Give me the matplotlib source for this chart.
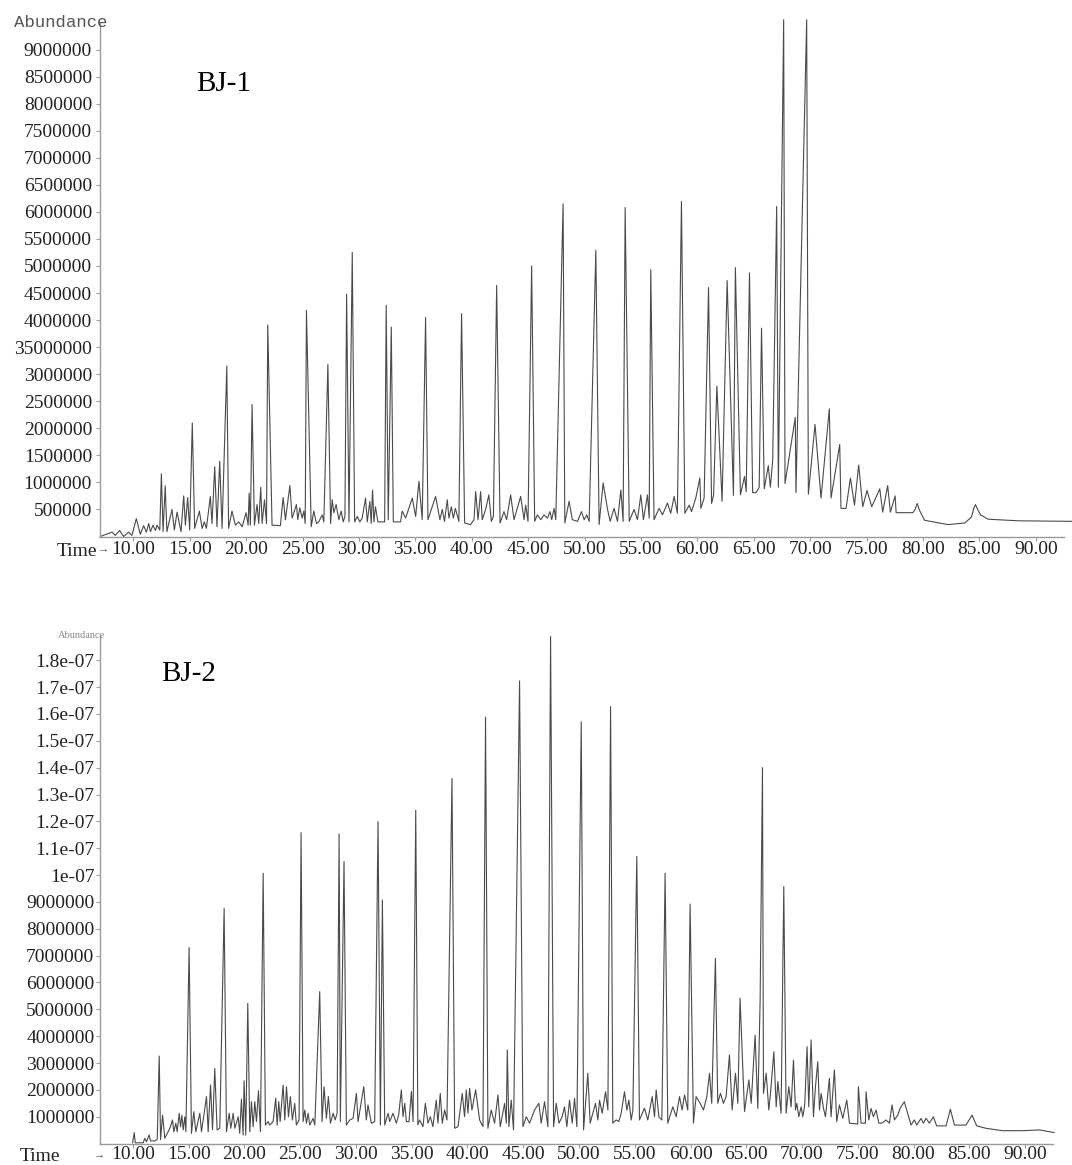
import matplotlib
matplotlib.use('Agg')
import matplotlib.pyplot as plt
import numpy as np

# retention time (min), abundance (millions of counts)
bj1_trace = [
    (7.07, 0.0), (8.11, 0.08), (8.40, 0.02), (8.79, 0.11), (9.14, 0.0), (9.58, 0.08), (9.88, 0.02),
    (10.27, 0.33), (10.62, 0.04), (10.92, 0.20), (11.16, 0.08), (11.37, 0.24), (11.52, 0.09),
    (11.75, 0.21), (11.96, 0.11), (12.11, 0.21), (12.35, 0.12),
    (12.49, 1.16), (12.64, 0.09), (12.83, 0.94), (12.98, 0.09), (13.43, 0.50), (13.64, 0.12),
    (13.88, 0.45), (14.23, 0.09), (14.47, 0.75), (14.62, 0.21), (14.82, 0.72), (15.00, 0.12),
    (15.23, 2.10), (15.44, 0.15), (15.86, 0.47), (16.10, 0.15), (16.30, 0.27), (16.48, 0.15),
    (16.83, 0.74), (16.98, 0.24), (17.22, 1.29), (17.42, 0.18), (17.66, 1.39), (17.87, 0.15),
    (18.29, 3.15), (18.45, 0.15), (18.75, 0.47), (19.05, 0.21), (19.35, 0.27), (19.65, 0.18),
    (20.00, 0.44), (20.18, 0.21), (20.27, 0.80), (20.38, 0.21), (20.53, 2.44),
    (20.74, 0.21), (20.97, 0.59), (21.12, 0.24), (21.30, 0.91), (21.42, 0.24), (21.63, 0.68),
    (21.81, 0.24), (21.92, 3.91), (22.30, 0.21), (23.04, 0.20), (23.28, 0.72), (23.49, 0.31),
    (23.88, 0.94), (24.08, 0.34), (24.46, 0.59), (24.58, 0.31), (24.76, 0.53),
    (24.97, 0.34), (25.12, 0.47), (25.24, 0.24), (25.35, 4.18), (25.77, 0.18), (26.00, 0.47),
    (26.24, 0.24), (26.44, 0.27), (26.74, 0.40), (26.89, 0.27), (27.25, 3.18), (27.49, 0.24),
    (27.63, 0.68), (27.78, 0.44), (27.98, 0.59), (28.22, 0.31), (28.43, 0.47),
    (28.61, 0.27), (28.76, 0.37), (28.91, 4.48), (29.12, 0.27), (29.41, 5.25), (29.62, 0.27),
    (29.85, 0.37), (30.08, 0.27), (30.29, 0.34), (30.59, 0.71), (30.74, 0.27), (30.97, 0.65),
    (31.09, 0.24), (31.21, 0.86), (31.33, 0.27), (31.47, 0.55), (31.68, 0.27),
    (32.28, 0.27), (32.42, 4.27), (32.60, 0.31), (32.87, 3.87), (33.05, 0.27), (33.69, 0.27),
    (33.84, 0.47), (34.14, 0.34), (34.73, 0.71), (35.03, 0.37), (35.32, 1.02), (35.61, 0.31),
    (35.91, 4.05),
    (36.12, 0.31), (36.80, 0.74), (37.18, 0.31), (37.39, 0.50), (37.59, 0.28), (37.83, 0.68),
    (37.98, 0.34), (38.19, 0.55), (38.37, 0.34), (38.55, 0.52), (38.86, 0.28), (39.10, 4.12),
    (39.37, 0.25), (39.90, 0.22), (40.20, 0.31), (40.35, 0.83), (40.56, 0.31), (40.79, 0.83),
    (40.93, 0.31), (41.23, 0.50), (41.52, 0.77), (41.74, 0.28), (41.92, 0.37), (42.21, 4.64),
    (42.51, 0.25), (42.86, 0.46), (43.09, 0.31), (43.45, 0.77), (43.75, 0.31), (44.34, 0.74),
    (44.64, 0.31), (44.78, 0.58), (44.99, 0.28), (45.31, 5.00), (45.58, 0.28), (45.82, 0.40),
    (46.12, 0.31), (46.41, 0.40), (46.71, 0.34), (46.94, 0.46), (47.09, 0.31), (47.30, 0.52),
    (47.45, 0.31), (48.10, 6.15), (48.25, 0.25), (48.63, 0.65), (48.92, 0.31), (49.37, 0.28),
    (49.73, 0.46), (49.97, 0.31), (50.20, 0.40), (50.41, 0.28), (51.00, 5.29), (51.29, 0.22),
    (51.65, 0.99), (52.04, 0.50), (52.27, 0.28), (52.62, 0.52), (52.92, 0.28), (53.22, 0.86),
    (53.42, 0.28), (53.60, 6.08), (53.96, 0.28), (54.39, 0.50), (54.69, 0.31), (54.99, 0.77),
    (55.22, 0.31), (55.58, 0.77), (55.73, 0.34), (55.87, 4.93), (56.16, 0.31), (56.61, 0.52),
    (56.91, 0.40), (57.35, 0.62), (57.64, 0.43), (57.94, 0.74), (58.23, 0.43), (58.59, 6.19),
    (58.89, 0.43), (59.28, 0.58), (59.48, 0.46), (59.86, 0.71), (60.22, 1.08), (60.31, 0.52),
    (60.60, 0.71), (60.99, 4.60), (61.26, 0.61), (61.44, 0.77), (61.73, 2.78), (62.19, 0.65),
    (62.64, 4.73), (63.20, 0.76), (63.37, 4.97), (63.82, 0.77), (64.18, 1.11), (64.33, 0.83),
    (64.62, 4.87),
    (64.90, 0.81), (65.20, 0.81), (65.48, 0.91), (65.69, 3.85), (65.93, 0.88), (66.29, 1.31),
    (66.47, 0.91), (66.68, 1.41), (67.03, 6.10), (67.18, 0.91), (67.65, 9.55), (67.77, 0.98),
    (68.68, 2.20), (68.74, 0.81), (69.69, 9.55), (69.84, 0.78), (70.43, 2.07), (70.96, 0.71),
    (71.70, 2.36), (71.85, 0.71), (72.62, 1.70), (72.73, 0.52), (73.18, 0.52), (73.57, 1.08),
    (73.93, 0.58), (74.30, 1.32), (74.66, 0.55), (75.04, 0.85), (75.46, 0.55), (76.17, 0.88),
    (76.43, 0.45), (76.87, 0.94), (77.11, 0.45), (77.53, 0.75), (77.62, 0.44), (79.10, 0.44),
    (79.30, 0.50), (79.49, 0.61), (79.70, 0.48), (80.14, 0.30), (82.22, 0.22), (83.71, 0.25),
    (84.30, 0.36), (84.50, 0.52), (84.65, 0.59), (84.85, 0.50), (85.10, 0.40), (85.77, 0.32),
    (88.43, 0.29), (93.35, 0.28),
]

bj2_trace = [
    (9.97, 0.03), (10.12, 0.41), (10.21, 0.03), (10.92, 0.03), (11.07, 0.20), (11.22, 0.07),
    (11.46, 0.32), (11.58, 0.10), (11.97, 0.10), (12.18, 0.15), (12.36, 3.26), (12.48, 0.15),
    (12.66, 1.06), (12.86, 0.20), (13.16, 0.44), (13.37, 0.63), (13.55, 0.88), (13.67, 0.44),
    (13.85, 0.76), (13.97, 0.44), (14.15, 1.13), (14.27, 0.63), (14.39, 1.06), (14.51, 0.51),
    (14.66, 1.00), (14.75, 0.44), (15.04, 7.30), (15.25, 0.38), (15.46, 1.19), (15.64, 0.44),
    (16.00, 1.13), (16.15, 0.44), (16.60, 1.75), (16.75, 0.44), (16.96, 2.18), (17.14, 0.51),
    (17.34, 2.80), (17.55, 0.51), (17.79, 0.57), (18.18, 8.76), (18.39, 0.44), (18.63, 1.13),
    (18.78, 0.57), (18.99, 1.13), (19.14, 0.57), (19.44, 1.00), (19.58, 0.38), (19.73, 1.65),
    (19.88, 0.32), (19.97, 2.34), (20.12, 0.32), (20.30, 5.22), (20.48, 0.44), (20.63, 1.56),
    (20.78, 0.63), (20.93, 1.56), (21.08, 0.82), (21.26, 1.97), (21.44, 0.44), (21.68, 10.07),
    (21.88, 0.69), (22.12, 0.82), (22.27, 0.69), (22.57, 0.82), (22.81, 1.69), (22.93, 0.69),
    (23.08, 1.56), (23.20, 0.82), (23.47, 2.18), (23.62, 0.88), (23.77, 2.12), (23.95, 1.00),
    (24.12, 1.75), (24.30, 0.88), (24.51, 1.50), (24.66, 0.69), (24.90, 0.88), (25.08, 11.58),
    (25.26, 0.82), (25.41, 1.25), (25.56, 0.76), (25.71, 1.13), (25.86, 0.69), (26.16, 0.94),
    (26.31, 0.69), (26.75, 5.66), (26.96, 0.82), (27.14, 2.12), (27.35, 0.94), (27.53, 1.75),
    (27.71, 0.76), (27.95, 1.13), (28.13, 0.88), (28.31, 1.13), (28.49, 11.53), (28.60, 0.82),
    (28.93, 10.50), (29.14, 0.69), (29.44, 0.88), (29.74, 0.94), (30.04, 1.87), (30.19, 0.82),
    (30.70, 2.12), (30.93, 0.88), (31.08, 1.44), (31.38, 0.76), (31.68, 0.82), (31.98, 11.99),
    (32.19, 0.69), (32.37, 9.07), (32.58, 0.69), (32.88, 1.13), (33.03, 0.82), (33.32, 1.13),
    (33.62, 0.76), (33.83, 1.06), (34.07, 2.00), (34.22, 1.00), (34.37, 1.50), (34.52, 0.82),
    (34.76, 0.82), (34.97, 1.94), (35.12, 0.82), (35.36, 12.42), (35.55, 0.70),
    (35.71, 0.88), (36.01, 0.63), (36.22, 1.50), (36.46, 0.76), (36.67, 1.00), (36.90, 0.63),
    (37.20, 1.62), (37.35, 0.76), (37.56, 1.87), (37.74, 0.76), (37.95, 1.25), (38.16, 0.88),
    (38.61, 13.60), (38.85, 0.57), (39.15, 0.63), (39.53, 1.87), (39.74, 1.00), (39.89, 2.00),
    (40.04, 1.13), (40.19, 2.06), (40.40, 1.25), (40.73, 2.00), (41.09, 0.88), (41.39, 0.63),
    (41.62, 15.88), (41.83, 0.57), (42.13, 1.25), (42.43, 0.76), (42.73, 1.81), (42.94, 0.63),
    (43.33, 1.50), (43.48, 0.76), (43.57, 3.49), (43.71, 0.63), (43.92, 1.62), (44.13, 0.51),
    (44.67, 17.23), (44.97, 0.63), (45.27, 1.00), (45.57, 0.76), (46.01, 1.25), (46.40, 1.50),
    (46.61, 0.76), (46.91, 1.56), (47.21, 0.63), (47.45, 18.88), (47.72, 0.63), (47.96, 1.50),
    (48.20, 0.76), (48.49, 1.00), (48.70, 1.37), (48.91, 0.63), (49.15, 1.62), (49.39, 0.76),
    (49.60, 1.68), (49.81, 0.63), (50.20, 15.71), (50.41, 0.51), (50.79, 2.62), (51.00, 0.76),
    (51.24, 1.13), (51.48, 1.50), (51.69, 0.88), (51.84, 1.62), (52.08, 1.13), (52.38, 1.93),
    (52.59, 1.25), (52.83, 16.27), (53.03, 0.76), (53.33, 0.88), (53.57, 0.82), (53.78, 1.13),
    (54.08, 1.93), (54.29, 1.25), (54.47, 1.62), (54.68, 0.88), (54.83, 1.25), (55.18, 10.69),
    (55.42, 0.88), (55.87, 1.32), (56.17, 0.88), (56.56, 1.75), (56.77, 1.00), (56.92, 2.00),
    (57.16, 1.00), (57.43, 0.88), (57.72, 10.07), (57.96, 0.76), (58.41, 1.37), (58.71, 1.00),
    (59.01, 1.75), (59.25, 1.25), (59.46, 1.81), (59.75, 1.25), (59.96, 8.92), (60.26, 0.76),
    (60.50, 1.75), (60.86, 1.50), (61.16, 1.25), (61.46, 1.75), (61.70, 2.62), (61.90, 1.50),
    (62.23, 6.90), (62.44, 1.50), (62.68, 1.87), (62.95, 1.50), (63.19, 1.75), (63.49, 3.30),
    (63.73, 1.25), (64.03, 2.62), (64.24, 1.50), (64.44, 5.41),
    (64.84, 1.19), (65.23, 2.37), (65.44, 1.50), (65.79, 4.04), (66.03, 1.31), (66.24, 5.35),
    (66.45, 14.00), (66.54, 1.87), (66.78, 2.62), (67.02, 1.25), (67.17, 1.87), (67.47, 3.42),
    (67.68, 1.37), (67.83, 2.31), (68.12, 1.13), (68.36, 9.57), (68.57, 1.13), (68.81, 2.12),
    (69.02, 1.37), (69.23, 3.11), (69.41, 1.25), (69.53, 1.50), (69.71, 1.00), (69.92, 1.37),
    (70.07, 1.00), (70.24, 1.44), (70.45, 3.61), (70.60, 1.37), (70.81, 3.86), (71.02, 1.00),
    (71.20, 2.12), (71.41, 3.05), (71.56, 1.25), (71.71, 1.87), (71.92, 1.31), (72.10, 1.00),
    (72.45, 2.43), (72.60, 1.00), (72.90, 2.74), (73.11, 0.82), (73.35, 1.44), (73.65, 0.94),
    (74.01, 1.62), (74.25, 0.76), (74.99, 0.73), (75.05, 2.12), (75.29, 0.76), (75.68, 0.76),
    (75.74, 1.93), (75.98, 0.88), (76.19, 1.31), (76.40, 1.00), (76.64, 1.25), (76.88, 0.76),
    (77.17, 0.76), (77.53, 0.88), (77.83, 0.76), (78.07, 1.44), (78.28, 0.88), (78.58, 1.06),
    (78.79, 1.31), (79.17, 1.56), (79.47, 1.13), (79.77, 0.69), (80.07, 0.88), (80.28, 0.69),
    (80.67, 0.94), (80.88, 0.76), (81.12, 0.94), (81.42, 0.76), (81.77, 1.00), (82.07, 0.66),
    (82.91, 0.66), (83.30, 1.28), (83.66, 0.69), (84.70, 0.69), (85.24, 1.06), (85.66, 0.66),
    (86.49, 0.57), (87.99, 0.48), (89.78, 0.48), (91.27, 0.51), (92.60, 0.41),
]

xtick_values = [10, 15, 20, 25, 30, 35, 40, 45, 50, 55, 60, 65, 70, 75, 80, 85, 90]
xtick_labels = ['10.00', '15.00', '20.00', '25.00', '30.00', '35.00', '40.00', '45.00', '50.00',
                '55.00', '60.00', '65.00', '70.00', '75.00', '80.00', '85.00', '90.00']

bj1_ytick_values = [0.5, 1.0, 1.5, 2.0, 2.5, 3.0, 3.5, 4.0, 4.5, 5.0, 5.5, 6.0, 6.5, 7.0, 7.5, 8.0, 8.5, 9.0]
bj1_ytick_labels = ['500000', '1000000', '1500000', '2000000', '2500000', '3000000', '35000000',
                    '4000000', '4500000', '5000000', '5500000', '6000000', '6500000', '7000000',
                    '7500000', '8000000', '8500000', '9000000']

bj2_ytick_values = [1, 2, 3, 4, 5, 6, 7, 8, 9, 10, 11, 12, 13, 14, 15, 16, 17, 18]
bj2_ytick_labels = ['1000000', '2000000', '3000000', '4000000', '5000000', '6000000', '7000000',
                    '8000000', '9000000', '1e-07', '1.1e-07', '1.2e-07', '1.3e-07', '1.4e-07',
                    '1.5e-07', '1.6e-07', '1.7e-07', '1.8e-07']

SERIF = ['Liberation Serif', 'DejaVu Serif']
AXIS_GREY = '#9a9a9a'
TRACE = '#4a4a4a'

W, H = 1072, 1165
fig = plt.figure(figsize=(W / 100, H / 100), dpi=100)

# pixel boxes of the two plotting areas, measured on the reference
ax1 = fig.add_axes([100 / W, 1 - 536.5 / H, 964 / W, (536.5 - 23) / H])
ax2 = fig.add_axes([100 / W, 1 - 1143.6 / H, 953 / W, (1143.6 - 635) / H])


def style_axis(ax, ylim, yvals, ylabels, ypad, xpad):
    for side in ['top', 'right']:
        ax.spines[side].set_visible(False)
    for side in ['left', 'bottom']:
        ax.spines[side].set_color(AXIS_GREY)
        ax.spines[side].set_linewidth(1.0)
    ax.set_xlim(7.05, 92.5)
    ax.set_ylim(*ylim)
    ax.set_xticks(xtick_values)
    ax.set_xticklabels(xtick_labels, family=SERIF, fontsize=14, color='#222222')
    ax.set_yticks([v * 1e6 for v in yvals])
    ax.set_yticklabels(ylabels, family=SERIF, fontsize=14, color='#222222')
    ax.tick_params(axis='both', direction='out', length=3, width=0.8, color=AXIS_GREY)
    ax.tick_params(axis='y', pad=ypad)
    ax.tick_params(axis='x', pad=xpad)


for ax, trace in [(ax1, bj1_trace), (ax2, bj2_trace)]:
    t, a = np.array(trace).T
    ax.plot(t, a * 1e6, color=TRACE, lw=0.8, clip_on=False)

style_axis(ax1, (0, 9.49e6), bj1_ytick_values, bj1_ytick_labels, ypad=2.7, xpad=0)
style_axis(ax2, (0, 18.94e6), bj2_ytick_values, bj2_ytick_labels, ypad=1.0, xpad=-1.5)

# sample names
fig.text(196 / W, 1 - 91 / H, 'BJ-1', family=SERIF, fontsize=21, ha='left', va='baseline')
fig.text(161 / W, 1 - 681 / H, 'BJ-2', family=SERIF, fontsize=21, ha='left', va='baseline')

# axis captions
fig.text(107 / W, 1 - 27 / H, 'Abundance', family=['Liberation Mono', 'DejaVu Sans Mono'],
         fontsize=12.5, ha='right', va='baseline', color='#555555')
fig.text(105 / W, 1 - 638.5 / H, 'Abundance', family=SERIF, fontsize=7.5,
         ha='right', va='baseline', color='#888888')

fig.text(97 / W, 1 - 551.5 / H, 'Time', family=SERIF, fontsize=14, ha='right', va='center',
         color='#222222')
fig.text(97.5 / W, 1 - 549 / H, '→', family=SERIF, fontsize=8, ha='left', va='center',
         color='#555555')
fig.text(20 / W, 1 - 1156.5 / H, 'Time', family=SERIF, fontsize=14, ha='left', va='center',
         color='#222222')
fig.text(94 / W, 1 - 1155 / H, '→', family=SERIF, fontsize=8, ha='left', va='center',
         color='#555555')

fig.savefig('out.png', dpi=100)
